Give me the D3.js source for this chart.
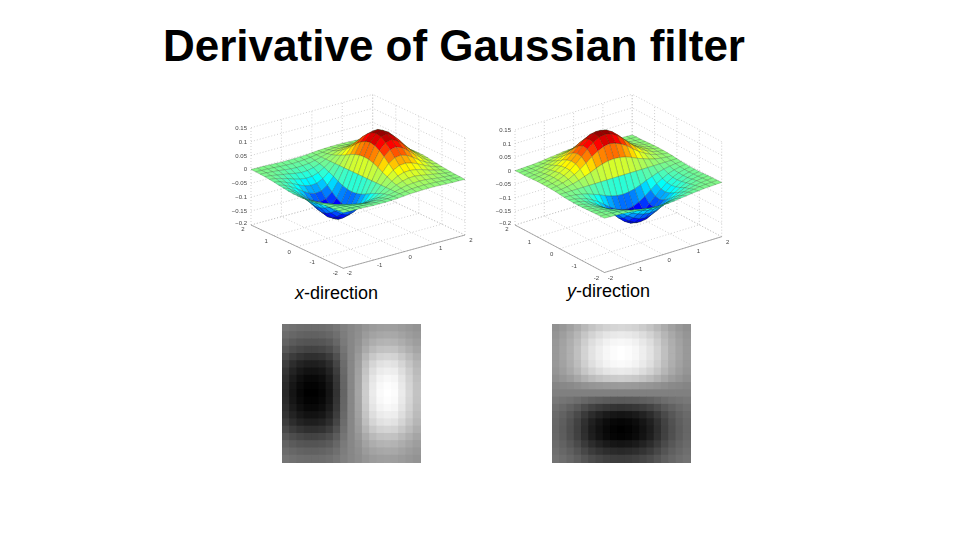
<!DOCTYPE html>
<html>
<head>
<meta charset="utf-8">
<script src="https://cdn.jsdelivr.net/npm/d3@7"></script>
<style>
  html, body { margin: 0; padding: 0; background: #fff; }
  svg { display: block; font-family: "Liberation Sans", Arial, sans-serif; }
</style>
</head>
<body>
<svg id="chart"></svg>
<script>
const titleText = 'Derivative of Gaussian filter';

// grid of the surface plots, -2 to 2 in steps of 0.2
const gridValues = [-2, -1.8, -1.6, -1.4, -1.2, -1, -0.8, -0.6, -0.4, -0.2, 0, 0.2, 0.4, 0.6, 0.8, 1, 1.2, 1.4, 1.6, 1.8, 2];
const planeTicks = [-2, -1, 0, 1, 2];
const heightTicks = [-0.2, -0.15, -0.1, -0.05, 0, 0.05, 0.1, 0.15];

// surface heights in thousandths, rows run along y, columns along x
const surfaceX = [
  [0, -1, -1, -2, -3, -4, -4, -4, -3, -2, 0, 2, 3, 4, 4, 4, 3, 2, 1, 1, 0],
  [-1, -2, -3, -4, -6, -7, -8, -7, -6, -3, 0, 3, 6, 7, 8, 7, 6, 4, 3, 2, 1],
  [-2, -3, -5, -7, -10, -13, -14, -13, -11, -6, 0, 6, 11, 13, 14, 13, 10, 7, 5, 3, 2],
  [-3, -5, -9, -13, -17, -21, -24, -23, -18, -10, 0, 10, 18, 23, 24, 21, 17, 13, 9, 5, 3],
  [-5, -8, -14, -20, -28, -34, -37, -36, -29, -16, 0, 16, 29, 36, 37, 34, 28, 20, 14, 8, 5],
  [-7, -12, -20, -30, -41, -50, -55, -53, -42, -24, 0, 24, 42, 53, 55, 50, 41, 30, 20, 12, 7],
  [-10, -17, -28, -41, -56, -69, -76, -73, -58, -32, 0, 32, 58, 73, 76, 69, 56, 41, 28, 17, 10],
  [-12, -22, -36, -53, -72, -89, -98, -94, -75, -42, 0, 42, 75, 94, 98, 89, 72, 53, 36, 22, 12],
  [-15, -26, -42, -63, -86, -106, -117, -112, -89, -50, 0, 50, 89, 112, 117, 106, 86, 63, 42, 26, 15],
  [-17, -29, -47, -70, -96, -118, -130, -125, -99, -55, 0, 55, 99, 125, 130, 118, 96, 70, 47, 29, 17],
  [-17, -30, -49, -73, -99, -122, -135, -129, -103, -57, 0, 57, 103, 129, 135, 122, 99, 73, 49, 30, 17],
  [-17, -29, -47, -70, -96, -118, -130, -125, -99, -55, 0, 55, 99, 125, 130, 118, 96, 70, 47, 29, 17],
  [-15, -26, -42, -63, -86, -106, -117, -112, -89, -50, 0, 50, 89, 112, 117, 106, 86, 63, 42, 26, 15],
  [-12, -22, -36, -53, -72, -89, -98, -94, -75, -42, 0, 42, 75, 94, 98, 89, 72, 53, 36, 22, 12],
  [-10, -17, -28, -41, -56, -69, -76, -73, -58, -32, 0, 32, 58, 73, 76, 69, 56, 41, 28, 17, 10],
  [-7, -12, -20, -30, -41, -50, -55, -53, -42, -24, 0, 24, 42, 53, 55, 50, 41, 30, 20, 12, 7],
  [-5, -8, -14, -20, -28, -34, -37, -36, -29, -16, 0, 16, 29, 36, 37, 34, 28, 20, 14, 8, 5],
  [-3, -5, -9, -13, -17, -21, -24, -23, -18, -10, 0, 10, 18, 23, 24, 21, 17, 13, 9, 5, 3],
  [-2, -3, -5, -7, -10, -13, -14, -13, -11, -6, 0, 6, 11, 13, 14, 13, 10, 7, 5, 3, 2],
  [-1, -2, -3, -4, -6, -7, -8, -7, -6, -3, 0, 3, 6, 7, 8, 7, 6, 4, 3, 2, 1],
  [0, -1, -1, -2, -3, -4, -4, -4, -3, -2, 0, 2, 3, 4, 4, 4, 3, 2, 1, 1, 0]
];

const surfaceY = [
  [0, -1, -2, -3, -5, -7, -10, -12, -15, -17, -17, -17, -15, -12, -10, -7, -5, -3, -2, -1, 0],
  [-1, -2, -3, -5, -8, -12, -17, -22, -26, -29, -30, -29, -26, -22, -17, -12, -8, -5, -3, -2, -1],
  [-1, -3, -5, -9, -14, -20, -28, -36, -42, -47, -49, -47, -42, -36, -28, -20, -14, -9, -5, -3, -1],
  [-2, -4, -7, -13, -20, -30, -41, -53, -63, -70, -73, -70, -63, -53, -41, -30, -20, -13, -7, -4, -2],
  [-3, -6, -10, -17, -28, -41, -56, -72, -86, -96, -99, -96, -86, -72, -56, -41, -28, -17, -10, -6, -3],
  [-4, -7, -13, -21, -34, -50, -69, -89, -106, -118, -122, -118, -106, -89, -69, -50, -34, -21, -13, -7, -4],
  [-4, -8, -14, -24, -37, -55, -76, -98, -117, -130, -135, -130, -117, -98, -76, -55, -37, -24, -14, -8, -4],
  [-4, -7, -13, -23, -36, -53, -73, -94, -112, -125, -129, -125, -112, -94, -73, -53, -36, -23, -13, -7, -4],
  [-3, -6, -11, -18, -29, -42, -58, -75, -89, -99, -103, -99, -89, -75, -58, -42, -29, -18, -11, -6, -3],
  [-2, -3, -6, -10, -16, -24, -32, -42, -50, -55, -57, -55, -50, -42, -32, -24, -16, -10, -6, -3, -2],
  [0, 0, 0, 0, 0, 0, 0, 0, 0, 0, 0, 0, 0, 0, 0, 0, 0, 0, 0, 0, 0],
  [2, 3, 6, 10, 16, 24, 32, 42, 50, 55, 57, 55, 50, 42, 32, 24, 16, 10, 6, 3, 2],
  [3, 6, 11, 18, 29, 42, 58, 75, 89, 99, 103, 99, 89, 75, 58, 42, 29, 18, 11, 6, 3],
  [4, 7, 13, 23, 36, 53, 73, 94, 112, 125, 129, 125, 112, 94, 73, 53, 36, 23, 13, 7, 4],
  [4, 8, 14, 24, 37, 55, 76, 98, 117, 130, 135, 130, 117, 98, 76, 55, 37, 24, 14, 8, 4],
  [4, 7, 13, 21, 34, 50, 69, 89, 106, 118, 122, 118, 106, 89, 69, 50, 34, 21, 13, 7, 4],
  [3, 6, 10, 17, 28, 41, 56, 72, 86, 96, 99, 96, 86, 72, 56, 41, 28, 17, 10, 6, 3],
  [2, 4, 7, 13, 20, 30, 41, 53, 63, 70, 73, 70, 63, 53, 41, 30, 20, 13, 7, 4, 2],
  [1, 3, 5, 9, 14, 20, 28, 36, 42, 47, 49, 47, 42, 36, 28, 20, 14, 9, 5, 3, 1],
  [1, 2, 3, 5, 8, 12, 17, 22, 26, 29, 30, 29, 26, 22, 17, 12, 8, 5, 3, 2, 1],
  [0, 1, 2, 3, 5, 7, 10, 12, 15, 17, 17, 17, 15, 12, 10, 7, 5, 3, 2, 1, 0]
];

// gray levels of the two filter images
const filterX = [
  [116, 112, 109, 108, 108, 109, 112, 118, 128, 135, 141, 149, 155, 158, 159, 158, 155, 151, 147],
  [108, 103, 99, 97, 97, 99, 103, 111, 125, 135, 143, 155, 163, 167, 169, 168, 163, 157, 152],
  [99, 91, 86, 84, 84, 86, 91, 103, 122, 135, 146, 162, 173, 179, 181, 179, 173, 165, 158],
  [87, 77, 71, 67, 67, 70, 77, 92, 117, 135, 150, 170, 185, 193, 195, 194, 185, 175, 165],
  [73, 60, 52, 47, 47, 50, 60, 80, 112, 135, 155, 181, 200, 210, 213, 211, 200, 187, 174],
  [61, 45, 35, 30, 30, 34, 45, 69, 108, 135, 158, 190, 213, 225, 229, 226, 213, 197, 182],
  [52, 35, 24, 18, 18, 22, 35, 61, 105, 135, 161, 196, 222, 235, 239, 237, 222, 205, 187],
  [46, 27, 15, 8, 8, 13, 27, 55, 102, 135, 163, 201, 229, 243, 248, 245, 229, 210, 191],
  [42, 22, 10, 3, 3, 8, 22, 52, 101, 135, 164, 204, 233, 248, 253, 250, 233, 213, 194],
  [40, 20, 7, 0, 0, 5, 20, 50, 100, 135, 165, 205, 235, 250, 255, 252, 235, 215, 195],
  [42, 22, 10, 3, 3, 8, 22, 52, 101, 135, 164, 204, 233, 248, 253, 250, 233, 213, 194],
  [46, 27, 15, 8, 8, 13, 27, 55, 102, 135, 163, 201, 229, 243, 248, 245, 229, 210, 191],
  [52, 35, 24, 18, 18, 22, 35, 61, 105, 135, 161, 196, 222, 235, 239, 237, 222, 205, 187],
  [61, 45, 35, 30, 30, 34, 45, 69, 108, 135, 158, 190, 213, 225, 229, 226, 213, 197, 182],
  [73, 60, 52, 47, 47, 50, 60, 80, 112, 135, 155, 181, 200, 210, 213, 211, 200, 187, 174],
  [87, 77, 71, 67, 67, 70, 77, 92, 117, 135, 150, 170, 185, 193, 195, 194, 185, 175, 165],
  [99, 91, 86, 84, 84, 86, 91, 103, 122, 135, 146, 162, 173, 179, 181, 179, 173, 165, 158],
  [108, 103, 99, 97, 97, 99, 103, 111, 125, 135, 143, 155, 163, 167, 169, 168, 163, 157, 152],
  [116, 112, 109, 108, 108, 109, 112, 118, 128, 135, 141, 149, 155, 158, 159, 158, 155, 151, 147]
];

const filterY = [
  [145, 152, 161, 172, 185, 196, 204, 210, 213, 215, 213, 210, 204, 196, 185, 172, 161, 152, 145],
  [149, 158, 169, 182, 198, 211, 221, 229, 233, 235, 233, 229, 221, 211, 198, 182, 169, 158, 149],
  [152, 162, 174, 188, 206, 222, 232, 241, 246, 248, 246, 241, 232, 222, 206, 188, 174, 162, 152],
  [153, 164, 176, 192, 211, 227, 238, 247, 252, 255, 252, 247, 238, 227, 211, 192, 176, 164, 153],
  [153, 164, 176, 192, 211, 227, 238, 247, 252, 255, 252, 247, 238, 227, 211, 192, 176, 164, 153],
  [152, 162, 174, 189, 207, 223, 234, 243, 248, 250, 248, 243, 234, 223, 207, 189, 174, 162, 152],
  [149, 158, 169, 182, 198, 211, 221, 229, 233, 235, 233, 229, 221, 211, 198, 182, 169, 158, 149],
  [143, 150, 157, 167, 178, 188, 195, 200, 203, 205, 203, 200, 195, 188, 178, 167, 157, 150, 143],
  [133, 136, 138, 142, 146, 149, 151, 153, 154, 155, 154, 153, 151, 149, 146, 142, 138, 136, 133],
  [128, 128, 128, 128, 128, 128, 128, 128, 128, 128, 128, 128, 128, 128, 128, 128, 128, 128, 128],
  [120, 117, 114, 109, 103, 98, 95, 92, 91, 90, 91, 92, 95, 98, 103, 109, 114, 117, 120],
  [112, 106, 98, 89, 77, 67, 60, 55, 52, 50, 52, 55, 60, 67, 77, 89, 98, 106, 112],
  [106, 98, 87, 74, 58, 44, 34, 26, 22, 20, 22, 26, 34, 44, 58, 74, 87, 98, 106],
  [103, 94, 81, 66, 48, 32, 21, 12, 7, 5, 7, 12, 21, 32, 48, 66, 81, 94, 103],
  [102, 92, 79, 64, 45, 28, 17, 8, 3, 0, 3, 8, 17, 28, 45, 64, 79, 92, 102],
  [103, 93, 80, 65, 47, 30, 19, 10, 5, 3, 5, 10, 19, 30, 47, 65, 80, 93, 103],
  [106, 98, 87, 74, 58, 44, 34, 26, 22, 20, 22, 26, 34, 44, 58, 74, 87, 98, 106],
  [110, 103, 95, 84, 71, 59, 51, 45, 42, 40, 42, 45, 51, 59, 71, 84, 95, 103, 110],
  [114, 109, 102, 94, 84, 75, 69, 64, 61, 60, 61, 64, 69, 75, 84, 94, 102, 109, 114]
];

const width = 960;
const height = 540;

const svg = d3.select('#chart')
  .attr('width', width)
  .attr('height', height);

// the reference is a soft scan, so the plots get a small blur
const defs = svg.append('defs');
defs.append('filter').attr('id', 'soft')
  .append('feGaussianBlur').attr('stdDeviation', 0.45);

// blur for the filter images, alpha pushed back up so the borders keep their gray
const softImage = defs.append('filter').attr('id', 'softImage')
  .attr('x', 0).attr('y', 0).attr('width', 1).attr('height', 1)
  .attr('color-interpolation-filters', 'sRGB');
softImage.append('feGaussianBlur').attr('stdDeviation', 0.6);
softImage.append('feComponentTransfer')
  .append('feFuncA').attr('type', 'linear').attr('slope', 50);

svg.append('text')
  .attr('x', 163)
  .attr('y', 61)
  .attr('font-size', 44)
  .attr('font-weight', 'bold')
  .attr('fill', '#000')
  .text(titleText);

const jet = d3.scaleLinear()
  .domain([-135, -106, -42, 0, 42, 106, 135])
  .range(['#00008f', '#0000ff', '#00ffff', '#84f884', '#ffff00', '#ff0000', '#800000'])
  .clamp(true);

const gray = d3.scaleLinear().domain([0, 255]).range(['#000', '#fff']);

function drawSurface(zData, opts) {
  // x and y run away from the front corner, each moves both screen directions
  const xToLeft = d3.scaleLinear().domain([-2, 2]).range([opts.front[0], opts.right[0]]);
  const xToTop = d3.scaleLinear().domain([-2, 2]).range([0, opts.right[1] - opts.front[1]]);
  const yToLeft = d3.scaleLinear().domain([-2, 2]).range([0, opts.left[0] - opts.front[0]]);
  const yToTop = d3.scaleLinear().domain([-2, 2]).range([opts.front[1], opts.left[1]]);
  const zToTop = d3.scaleLinear().domain([-0.2, 0.15]).range([0, -opts.rise]);

  const project = (x, y, z) => [xToLeft(x) + yToLeft(y), xToTop(x) + yToTop(y) + zToTop(z)];
  const line = d3.line();

  const g = svg.append('g').attr('filter', 'url(#soft)');

  const seg = (a, b, stroke, dash, w) => g.append('path')
    .attr('d', line([project(...a), project(...b)]))
    .attr('fill', 'none')
    .attr('stroke', stroke)
    .attr('stroke-width', w)
    .attr('stroke-dasharray', dash);

  // dotted grid on the floor and the two back walls
  planeTicks.forEach(t => {
    seg([t, -2, -0.2], [t, 2, -0.2], '#bbb', '1,2', 0.7);
    seg([-2, t, -0.2], [2, t, -0.2], '#bbb', '1,2', 0.7);
    seg([t, 2, -0.2], [t, 2, 0.15], '#bbb', '1,2', 0.7);
    seg([2, t, -0.2], [2, t, 0.15], '#bbb', '1,2', 0.7);
  });
  heightTicks.forEach(t => {
    seg([-2, 2, t], [2, 2, t], '#bbb', '1,2', 0.7);
    seg([2, -2, t], [2, 2, t], '#bbb', '1,2', 0.7);
  });

  seg([-2, -2, -0.2], [2, -2, -0.2], '#888', null, 0.7);
  seg([-2, -2, -0.2], [-2, 2, -0.2], '#888', null, 0.7);

  // facets, painted from the back corner to the front
  const facets = [];
  d3.range(gridValues.length - 1).forEach(r => {
    d3.range(gridValues.length - 1).forEach(c => {
      const corners = [[r, c], [r, c + 1], [r + 1, c + 1], [r + 1, c]];
      facets.push({
        depth: r + c,
        points: corners.map(([i, j]) => project(gridValues[j], gridValues[i], zData[i][j] / 1000)),
        value: d3.mean(corners, ([i, j]) => zData[i][j])
      });
    });
  });
  facets.sort((a, b) => d3.descending(a.depth, b.depth));

  g.selectAll('path.facet')
    .data(facets)
    .enter()
    .append('path')
    .attr('class', 'facet')
    .attr('d', d => line(d.points) + 'Z')
    .attr('fill', d => jet(d.value))
    .attr('stroke', '#1d3a1d')
    .attr('stroke-opacity', 0.55)
    .attr('stroke-width', 0.4);

  const label = (p, dx, dy, anchor, txt) => g.append('text')
    .attr('x', p[0] + dx)
    .attr('y', p[1] + dy)
    .attr('text-anchor', anchor)
    .attr('font-size', 6)
    .attr('fill', '#444')
    .text(txt);

  heightTicks.forEach(t => label(project(-2, 2, t), -4, t === -0.2 ? 0 : 2, 'end', d3.format('')(t)));
  planeTicks.forEach(t => {
    label(project(t, -2, -0.2), 6, 7, 'middle', t);
    label(project(-2, t, -0.2), -8, t === 2 ? 6 : 7, 'middle', t);
  });
}

function drawFilter(values, left) {
  const x = d3.scaleBand().domain(d3.range(values[0].length)).range([left, left + 138]);
  const y = d3.scaleBand().domain(d3.range(values.length)).range([324, 462]);

  svg.append('g')
    .attr('filter', 'url(#softImage)')
    .selectAll('g')
    .data(values)
    .enter()
    .append('g')
    .attr('transform', (d, i) => `translate(0,${y(i)})`)
    .selectAll('rect')
    .data(d => d)
    .enter()
    .append('rect')
    .attr('x', (d, i) => x(i))
    .attr('width', x.bandwidth() + 0.5)
    .attr('height', y.bandwidth() + 0.5)
    .attr('fill', d => gray(d));
}

function drawCaption(axisName, x, y) {
  const caption = svg.append('text')
    .attr('x', x)
    .attr('y', y)
    .attr('font-size', 18)
    .attr('fill', '#000');
  caption.append('tspan').attr('font-style', 'italic').text(axisName);
  caption.append('tspan').text('-direction');
}

drawSurface(surfaceX, { front: [343.3, 268.3], left: [251, 225], right: [465, 235], rise: 97.3 });
drawSurface(surfaceY, { front: [604.5, 272.5], left: [515, 225], right: [721.7, 236.7], rise: 95 });

drawCaption('x', 295, 299);
drawCaption('y', 567, 297);

drawFilter(filterX, 282);
drawFilter(filterY, 552);
</script>
</body>
</html>
